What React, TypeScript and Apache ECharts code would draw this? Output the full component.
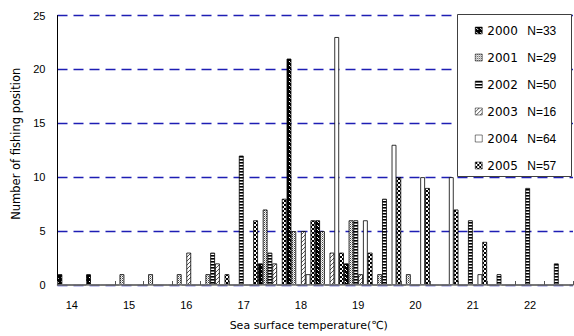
import React, { useEffect, useRef } from "react";
import * as echarts from "echarts";

const categories = ["14", "14.5", "15", "15.5", "16", "16.5", "17", "17.5", "18", "18.5", "19", "19.5", "20", "20.5", "21", "21.5", "22", "22.5"];
const years = ["2000", "2001", "2002", "2003", "2004", "2005"];
const totals = [33, 29, 50, 16, 64, 57];
const y2000 = [1, 1, 0, 0, 0, 0, 0, 2, 21, 6, 2, 0, 0, 0, 0, 0, 0, 0];
const y2001 = [0, 0, 1, 1, 1, 1, 0, 7, 5, 5, 6, 1, 1, 0, 0, 0, 0, 0];
const y2002 = [0, 0, 0, 0, 0, 3, 12, 3, 0, 0, 6, 8, 0, 0, 6, 1, 9, 2];
const y2003 = [0, 0, 0, 0, 3, 2, 0, 2, 5, 3, 1, 0, 0, 0, 0, 0, 0, 0];
const y2004 = [0, 0, 0, 0, 0, 0, 0, 0, 1, 23, 6, 13, 10, 10, 1, 0, 0, 0];
const y2005 = [0, 0, 0, 0, 0, 1, 6, 8, 6, 3, 3, 10, 9, 7, 4, 0, 0, 0];
const seriesValues = [y2000, y2001, y2002, y2003, y2004, y2005];
const yMin = 0;
const yMax = 25;
const yStep = 5;

function tile(w: number, h: number, draw: (ctx: CanvasRenderingContext2D) => void): any {
  const c = document.createElement("canvas");
  c.width = w;
  c.height = h;
  const ctx = c.getContext("2d") as CanvasRenderingContext2D;
  draw(ctx);
  return { image: c.toDataURL(), repeat: "repeat", imageWidth: w, imageHeight: h };
}

function makePatterns(): any[] {
  const p2000 = tile(4, 4, (ctx) => {
    ctx.fillStyle = "#000";
    ctx.fillRect(0, 0, 4, 4);
    ctx.fillStyle = "#fff";
    ctx.fillRect(1, 1, 1, 1);
    ctx.fillRect(2, 2, 1, 1);
  });
  const p2001 = tile(2, 2, (ctx) => {
    ctx.fillStyle = "#fff";
    ctx.fillRect(0, 0, 2, 2);
    ctx.fillStyle = "#444";
    ctx.fillRect(0, 0, 1, 1);
    ctx.fillStyle = "#aaa";
    ctx.fillRect(1, 1, 1, 1);
  });
  const p2002 = tile(4, 3, (ctx) => {
    ctx.fillStyle = "#fff";
    ctx.fillRect(0, 0, 4, 3);
    ctx.fillStyle = "#000";
    ctx.fillRect(0, 0, 4, 1.6);
  });
  const p2003 = tile(4, 4, (ctx) => {
    ctx.fillStyle = "#fff";
    ctx.fillRect(0, 0, 4, 4);
    ctx.fillStyle = "#555";
    ctx.fillRect(3, 0, 1, 1);
    ctx.fillRect(2, 1, 1, 1);
    ctx.fillRect(1, 2, 1, 1);
    ctx.fillRect(0, 3, 1, 1);
  });
  const p2004 = "#ffffff";
  const p2005 = tile(4, 4, (ctx) => {
    ctx.fillStyle = "#fff";
    ctx.fillRect(0, 0, 4, 4);
    ctx.fillStyle = "#000";
    ctx.fillRect(0, 0, 2, 2);
    ctx.fillRect(2, 2, 2, 2);
  });
  return [p2000, p2001, p2002, p2003, p2004, p2005];
}

export default function App() {
  const ref = useRef<HTMLDivElement>(null);
  useEffect(() => {
    if (!ref.current) return;
    const chart = echarts.init(ref.current, undefined, { renderer: "svg" });
    const patterns = makePatterns();
    const font = "Liberation Sans, Arial, Noto Sans CJK JP, sans-serif";
    const option: any = {
      animation: false,
      backgroundColor: "#fff",
      grid: { left: 57.5, right: 1, top: 15.5, bottom: 49.5 },
      graphic: {
        elements: [
          {
            type: "rect",
            z: 100,
            shape: { x: 457.5, y: 14.5, width: 114, height: 162 },
            style: { fill: "#fff", stroke: "#404040", lineWidth: 1 },
          },
        ],
      },
      legend: {
        orient: "vertical",
        left: 475,
        top: 23.5,
        z: 200,
        padding: 0,
        itemWidth: 7,
        itemHeight: 7,
        itemGap: 13,
        icon: "rect",
        selectedMode: false,
        data: years,
        itemStyle: { borderWidth: 0.5 },
        formatter: (name: string) => `{y|${name}}{n|N=${totals[years.indexOf(name)]}}`,
        textStyle: {
          lineHeight: 14,
          rich: {
            y: { fontFamily: "DejaVu Sans, sans-serif", fontSize: 12, width: 40, lineHeight: 14, color: "#000" },
            n: { fontFamily: font, fontSize: 12, lineHeight: 14, color: "#000" },
          },
        },
      },
      xAxis: {
        type: "category",
        data: categories,
        boundaryGap: true,
        name: "Sea surface temperature(℃)",
        nameLocation: "middle",
        nameGap: 35,
        nameTextStyle: { fontFamily: "DejaVu Sans, Noto Sans CJK JP, sans-serif", fontSize: 11, color: "#000", padding: [0, 13, 0, 0] },
        axisLine: { show: true, lineStyle: { color: "#808080", width: 1.6 } },
        axisTick: { show: true, interval: 0, inside: true, length: 4, lineStyle: { color: "#555" } },
        axisLabel: { interval: 1, margin: 14, fontFamily: font, fontSize: 11, color: "#000" },
        splitLine: { show: false },
        z: 10,
      },
      yAxis: {
        type: "value",
        min: yMin,
        max: yMax,
        interval: yStep,
        name: "Number of fishing position",
        nameLocation: "middle",
        nameRotate: 90,
        nameGap: 35,
        nameTextStyle: { fontFamily: "DejaVu Sans, sans-serif", fontSize: 11.5, color: "#000", padding: [0, 0, 0, 13] },
        axisLine: { show: true, lineStyle: { color: "#000", width: 1 } },
        axisTick: { show: false },
        axisLabel: { margin: 12, fontFamily: font, fontSize: 11, color: "#000" },
        splitLine: { show: true, lineStyle: { color: "#1e1eb4", type: [10, 6], width: 1.4, opacity: 1 } },
      },
      series: years.map((y, i) => ({
        name: y,
        type: "bar",
        data: seriesValues[i],
        barGap: "0%",
        barCategoryGap: "0%",
        itemStyle: { color: patterns[i], borderColor: "#000", borderWidth: 0.8 },
        emphasis: { disabled: true },
      })),
    };
    chart.setOption(option);
    return () => chart.dispose();
  }, []);
  return (
    <div
      ref={ref}
      style={{ position: "absolute", left: 0, top: 0, width: 574, height: 336 }}
    />
  );
}
